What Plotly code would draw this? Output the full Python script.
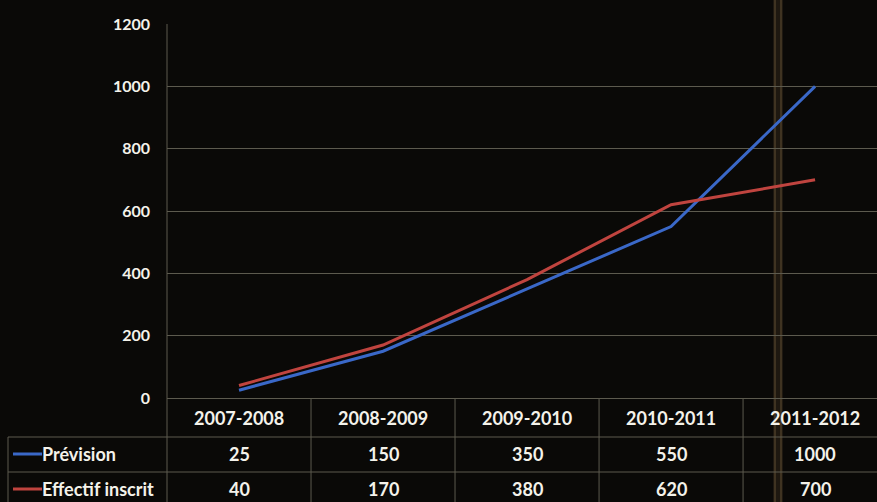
import plotly.graph_objects as go

# Data
years = ["2007-2008", "2008-2009", "2009-2010", "2010-2011", "2011-2012"]
prevision = [25, 150, 350, 550, 1000]
effectif = [40, 170, 380, 620, 700]
y_ticks = [0, 200, 400, 600, 800, 1000, 1200]

series = [
    ("Prévision", prevision, "#3a68c8"),
    ("Effectif inscrit", effectif, "#c0443f"),
]

W, H = 877, 502
L, T, B = 167, 24, 104          # plot margins in px
plot_w = W - L
plot_h = H - T - B
x_range = [-0.5, 4.43]

GRID = "#5c5a4e"
TEXT = "#f4f2ea"
FONT = "Lato"


def px_to_paper_y(py):
    return (H - B - py) / plot_h


def px_to_paper_x(px):
    return (px - L) / plot_w


fig = go.Figure()
for name, vals, color in series:
    fig.add_trace(go.Scatter(
        x=years, y=vals, mode="lines", name=name,
        line=dict(color=color, width=3), showlegend=False,
    ))

shapes = []
annotations = []
cell_font = dict(family=FONT, size=18, color=TEXT, weight="bold")

# Data table under the plot
row_y = {"head": px_to_paper_y(418), 0: px_to_paper_y(454), 1: px_to_paper_y(489)}
for i, yr in enumerate(years):
    annotations.append(dict(x=yr, y=row_y["head"], xref="x", yref="paper",
                            xanchor="center", yanchor="middle",
                            text=yr, showarrow=False, font=cell_font))
    for r, (name, vals, color) in enumerate(series):
        annotations.append(dict(x=yr, y=row_y[r], xref="x", yref="paper",
                                xanchor="center", yanchor="middle",
                                text=str(vals[i]), showarrow=False, font=cell_font))

# Legend keys inside the table
for r, (name, vals, color) in enumerate(series):
    annotations.append(dict(x=px_to_paper_x(40), y=row_y[r], xref="paper", yref="paper",
                            xanchor="left", yanchor="middle", text=name,
                            showarrow=False, font=cell_font))
    shapes.append(dict(type="line", xref="paper", yref="paper",
                       x0=px_to_paper_x(13), x1=px_to_paper_x(42),
                       y0=row_y[r], y1=row_y[r],
                       line=dict(color=color, width=3)))

# Table grid lines
y_bottom = px_to_paper_y(H + 2)
for py in (437, 472):
    shapes.append(dict(type="line", xref="paper", yref="paper",
                       x0=px_to_paper_x(8), x1=1, y0=px_to_paper_y(py), y1=px_to_paper_y(py),
                       line=dict(color=GRID, width=1)))
shapes.append(dict(type="line", xref="paper", yref="paper",
                   x0=px_to_paper_x(8), x1=px_to_paper_x(8),
                   y0=px_to_paper_y(437), y1=y_bottom, line=dict(color=GRID, width=1)))
shapes.append(dict(type="line", xref="paper", yref="paper", x0=0, x1=0,
                   y0=1, y1=y_bottom, line=dict(color=GRID, width=1)))
for xb in (0.5, 1.5, 2.5, 3.5):
    shapes.append(dict(type="line", xref="x", yref="paper", x0=xb, x1=xb,
                       y0=0, y1=y_bottom, line=dict(color=GRID, width=1)))

# Vertical crease line across the sheet
shapes.append(dict(type="rect", xref="paper", yref="paper",
                   x0=px_to_paper_x(773), x1=px_to_paper_x(783),
                   y0=px_to_paper_y(-2), y1=y_bottom,
                   fillcolor="rgba(50,40,26,0.5)", line=dict(width=0), layer="below"))
for px, wd in ((775, 2), (781, 2)):
    shapes.append(dict(type="line", xref="paper", yref="paper",
                       x0=px_to_paper_x(px), x1=px_to_paper_x(px),
                       y0=px_to_paper_y(-2), y1=y_bottom,
                       line=dict(color="rgba(85,70,45,0.6)", width=wd), layer="below"))

fig.update_layout(
    width=W, height=H,
    margin=dict(l=L, r=0, t=T, b=B),
    paper_bgcolor="#0a0907",
    plot_bgcolor="#0a0907",
    shapes=shapes,
    annotations=annotations,
    showlegend=False,
)
fig.update_xaxes(range=x_range, showticklabels=False, showgrid=False,
                 zeroline=False, showline=False, fixedrange=True)
fig.update_yaxes(range=[0, 1200], tickvals=y_ticks, showgrid=True, gridcolor=GRID,
                 gridwidth=1, zeroline=True, zerolinecolor=GRID, zerolinewidth=1,
                 showline=False, ticks="", ticklabelstandoff=16,
                 tickfont=dict(family=FONT, size=16, color=TEXT, weight="bold"))

fig.write_html("out.html")
